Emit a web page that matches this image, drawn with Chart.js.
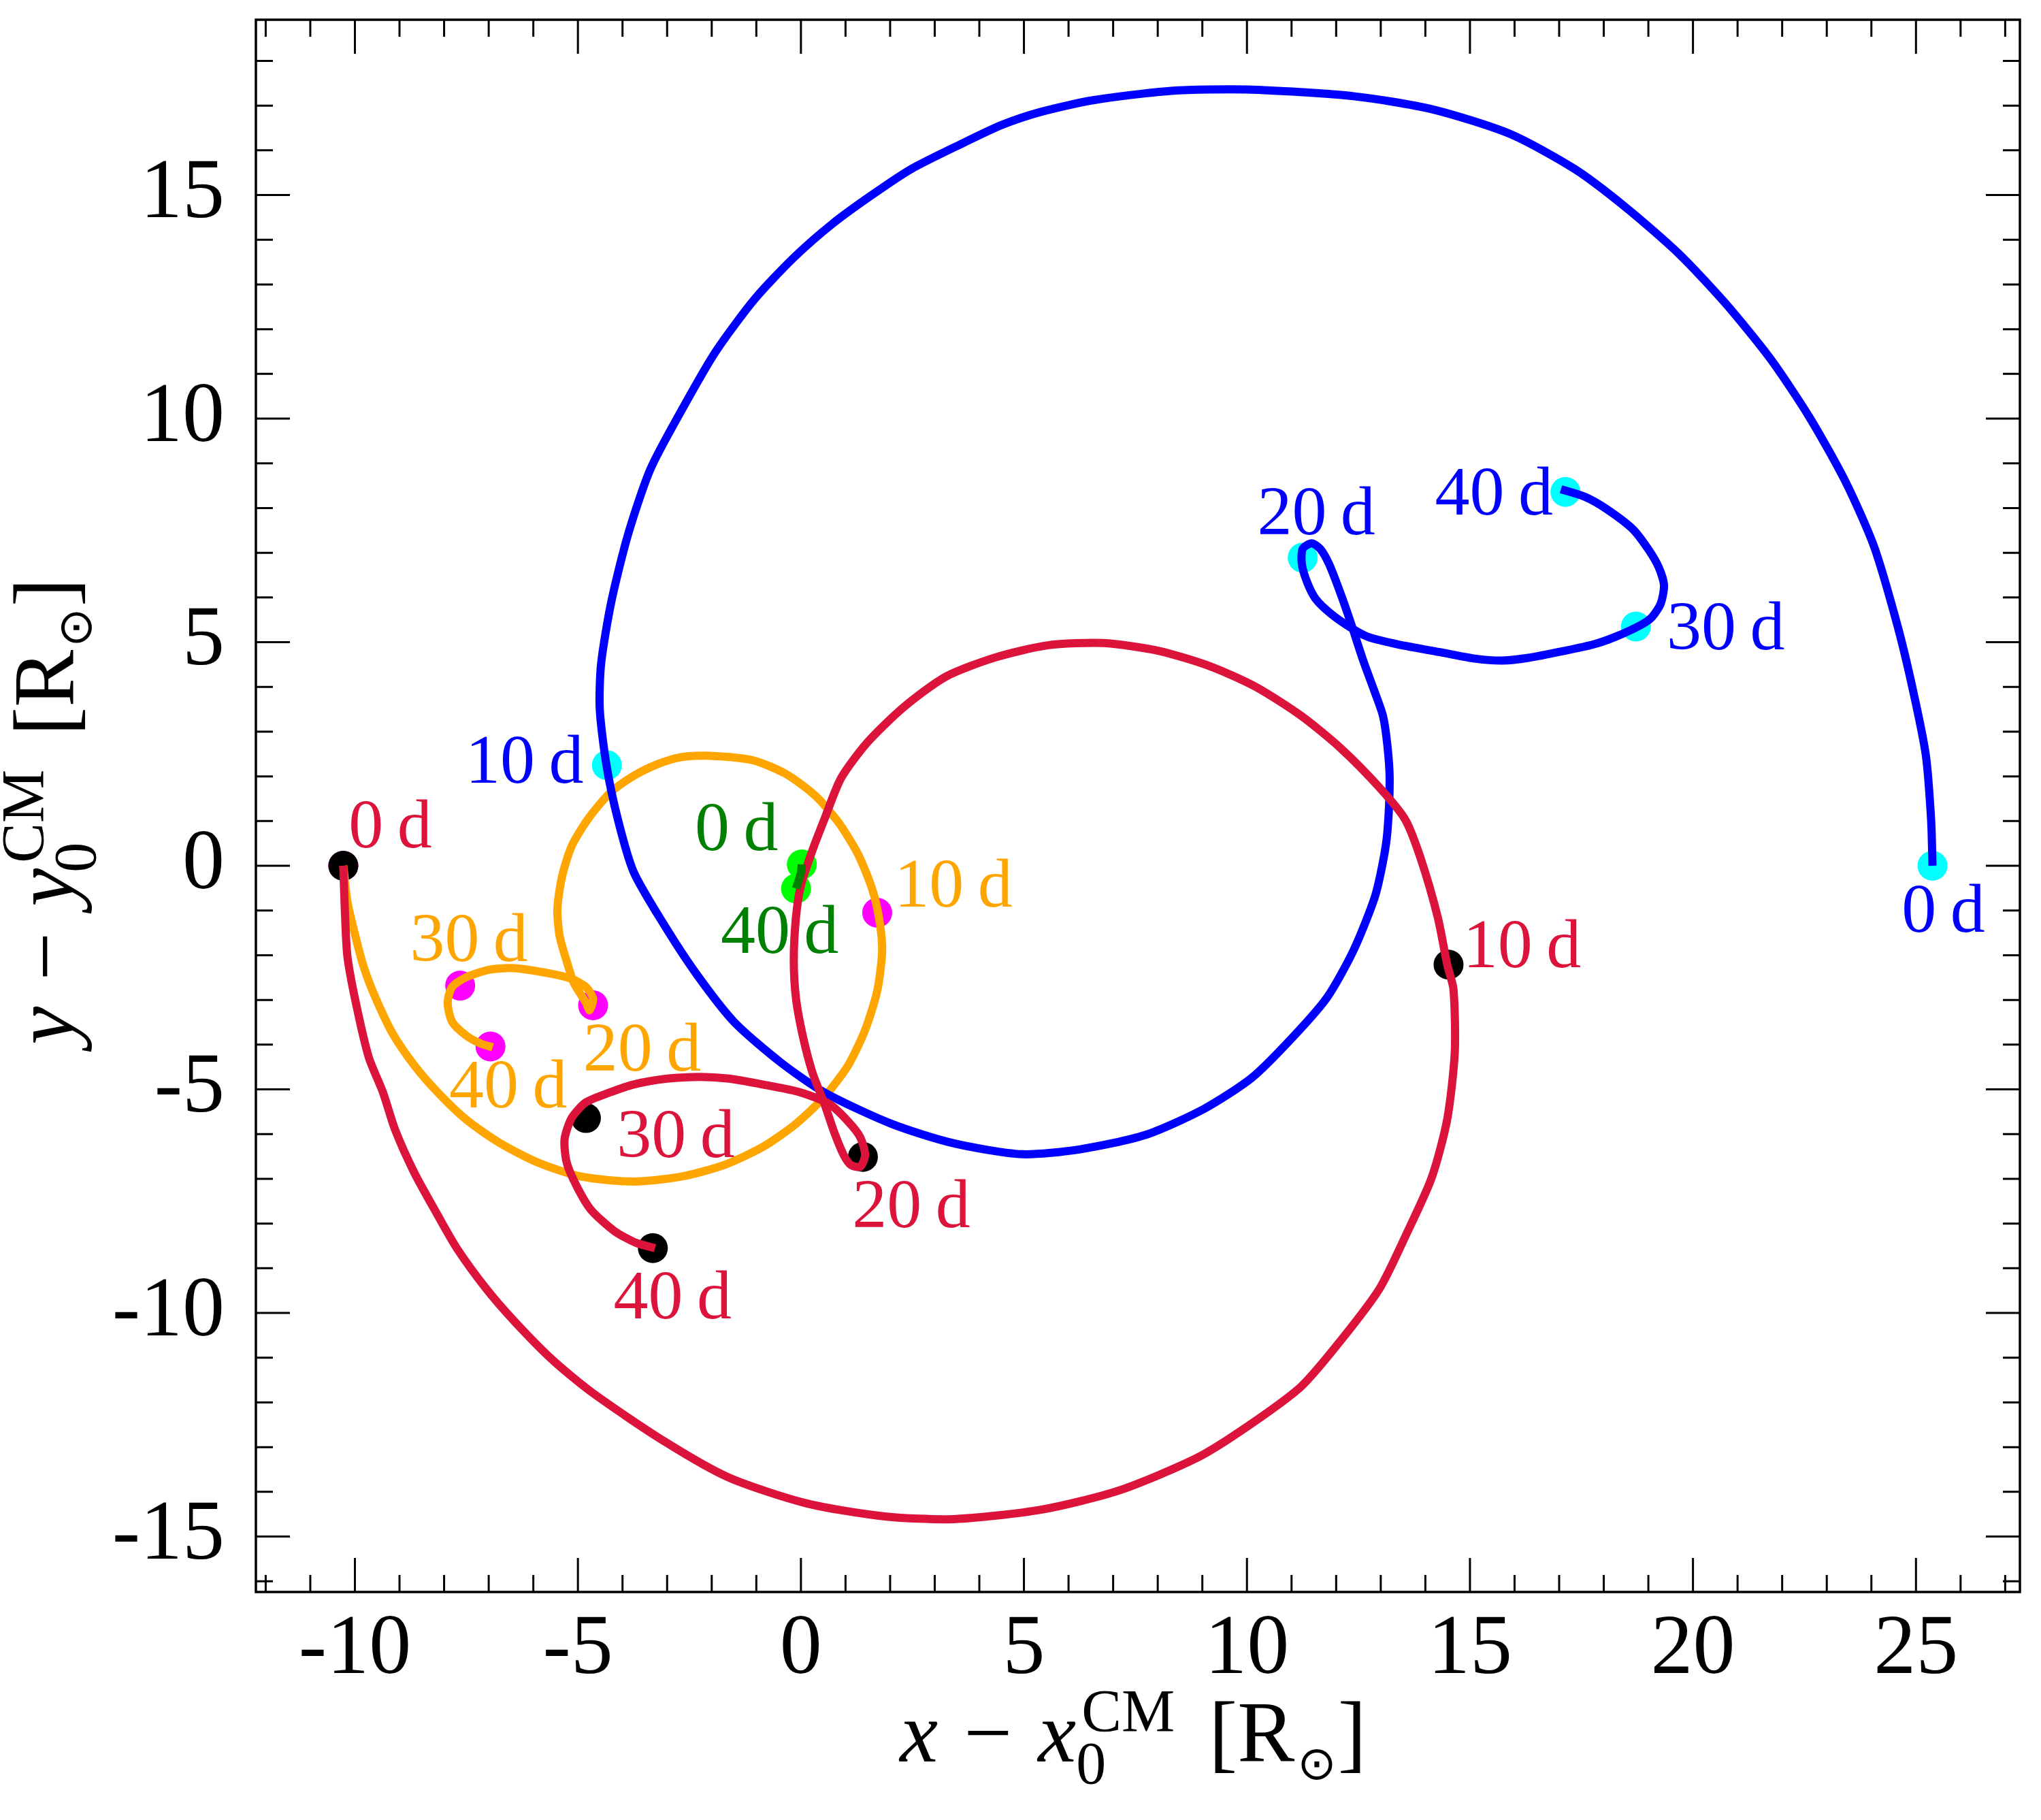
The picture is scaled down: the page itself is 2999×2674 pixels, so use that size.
<!DOCTYPE html>
<html>
<head>
<meta charset="utf-8">
<script src="https://cdn.jsdelivr.net/npm/chart.js@4.4.1/dist/chart.umd.min.js"></script>
<style>
  html, body { margin: 0; padding: 0; background: #fff; }
  canvas { display: block; }
</style>
</head>
<body>
<canvas id="orbitChart" width="2999" height="2674" style="width:2999px;height:2674px"></canvas>
<script>
// axis ranges and labelled ticks
const xRange = [-12.22, 27.33];
const yRange = [-16.24, 18.92];
const xTicks = [-10, -5, 0, 5, 10, 15, 20, 25];
const yTicks = [-15, -10, -5, 0, 5, 10, 15];

// trajectories, [x, y] in R_sun
const blueOrbit = [
  [25.37, 0.0], [25.34, 1.02], [25.22, 2.48], [24.93, 3.94], [24.58, 5.39], [24.06, 7.14],
  [23.42, 8.59], [22.60, 10.05], [21.72, 11.36], [20.70, 12.61], [19.68, 13.69], [18.51, 14.71],
  [17.35, 15.58], [15.89, 16.37], [14.14, 16.92], [12.39, 17.21], [9.99, 17.36], [8.30, 17.33],
  [6.55, 17.12], [5.38, 16.86], [4.51, 16.57], [3.63, 16.16], [2.47, 15.58], [1.59, 15.00],
  [0.71, 14.36], [-0.16, 13.60], [-1.04, 12.67], [-1.91, 11.50], [-2.64, 10.25], [-3.37, 8.88],
  [-3.87, 7.43], [-4.25, 5.91], [-4.48, 4.52], [-4.51, 3.50], [-4.36, 2.25], [-4.10, 1.02],
  [-3.75, -0.14], [-3.08, -1.30], [-2.35, -2.41], [-1.50, -3.49], [-0.45, -4.40], [0.53, -5.07],
  [2.03, -5.77], [3.40, -6.20], [4.95, -6.45], [6.26, -6.34], [7.72, -6.02], [9.03, -5.44],
  [10.11, -4.74], [11.02, -3.84], [11.80, -2.94], [12.39, -1.89], [12.86, -0.72], [13.05, 0.09],
  [13.15, 0.77], [13.20, 1.93], [13.15, 2.68], [13.05, 3.35], [12.86, 3.90], [12.61, 4.58],
  [12.32, 5.46], [12.08, 6.14], [11.84, 6.75], [11.64, 7.09], [11.45, 7.21], [11.25, 7.09],
  [11.23, 6.75], [11.35, 6.34], [11.54, 5.97], [11.89, 5.63], [12.32, 5.33], [12.71, 5.12],
  [13.39, 4.95], [14.37, 4.77], [15.14, 4.63], [15.73, 4.59], [16.31, 4.65], [17.09, 4.80],
  [17.77, 4.95], [18.26, 5.12], [18.84, 5.39], [19.08, 5.56], [19.28, 5.87], [19.35, 6.28],
  [19.23, 6.68], [18.99, 7.09], [18.65, 7.53], [18.06, 7.98], [17.58, 8.25], [17.04, 8.42]
];

const redOrbit = [
  [-10.26, 0.0], [-10.23, -0.87], [-10.17, -2.01], [-9.98, -3.06], [-9.69, -4.28], [-9.37, -5.07],
  [-9.10, -5.90], [-8.67, -6.86], [-8.14, -7.82], [-7.71, -8.56], [-7.07, -9.44], [-6.43, -10.18],
  [-5.57, -11.05], [-4.68, -11.78], [-3.08, -12.86], [-1.62, -13.68], [0.13, -14.26], [1.88, -14.55],
  [3.43, -14.61], [5.38, -14.40], [7.13, -13.97], [8.88, -13.24], [10.05, -12.51], [11.22, -11.64],
  [12.10, -10.62], [12.97, -9.46], [13.55, -8.29], [14.14, -6.98], [14.49, -5.67], [14.66, -4.16],
  [14.63, -2.76], [14.49, -2.21], [14.28, -1.16], [13.90, 0.15], [13.55, 1.03], [12.97, 1.75],
  [12.10, 2.63], [11.22, 3.35], [10.20, 4.00], [9.18, 4.46], [8.01, 4.81], [6.78, 4.98],
  [5.53, 4.93], [4.36, 4.66], [3.25, 4.23], [2.32, 3.56], [1.50, 2.77], [0.90, 1.96],
  [0.53, 1.05], [0.26, 0.35], [0.0, -0.44], [-0.11, -1.14], [-0.16, -2.10], [-0.11, -2.97],
  [0.05, -3.84], [0.26, -4.63], [0.53, -5.33], [0.74, -5.94], [0.96, -6.47], [1.12, -6.69],
  [1.33, -6.73], [1.44, -6.47], [1.33, -6.07], [1.06, -5.72], [0.64, -5.33], [0.0, -5.07],
  [-0.86, -4.89], [-1.61, -4.76], [-2.25, -4.72], [-3.00, -4.76], [-3.75, -4.89], [-4.29, -5.07],
  [-4.82, -5.29], [-5.14, -5.64], [-5.30, -6.12], [-5.25, -6.64], [-5.03, -7.16], [-4.71, -7.69],
  [-4.18, -8.17], [-3.70, -8.43], [-3.27, -8.55]
];

const orangeOrbit = [
  [-10.26, 0.0], [-10.17, -0.79], [-10.01, -1.49], [-9.80, -2.27], [-9.53, -2.97], [-9.15, -3.76],
  [-8.67, -4.46], [-8.14, -5.07], [-7.50, -5.68], [-6.75, -6.20], [-5.89, -6.64], [-4.93, -6.95],
  [-3.75, -7.06], [-2.68, -6.95], [-1.72, -6.69], [-0.86, -6.29], [-0.11, -5.77], [0.53, -5.16],
  [1.06, -4.46], [1.44, -3.67], [1.71, -2.80], [1.82, -1.92], [1.76, -1.22], [1.60, -0.53],
  [1.28, 0.26], [0.85, 0.96], [0.32, 1.57], [-0.33, 2.05], [-1.08, 2.36], [-2.04, 2.46],
  [-2.68, 2.43], [-3.22, 2.27], [-3.75, 2.01], [-4.29, 1.62], [-4.77, 1.05], [-5.14, 0.44],
  [-5.36, -0.26], [-5.46, -0.96], [-5.41, -1.57], [-5.25, -2.14], [-5.09, -2.62], [-4.82, -3.06],
  [-4.74, -3.23], [-4.66, -2.97], [-4.82, -2.71], [-5.14, -2.53], [-5.68, -2.40], [-6.43, -2.29],
  [-6.96, -2.32], [-7.50, -2.49], [-7.82, -2.71], [-7.92, -3.06], [-7.82, -3.49], [-7.50, -3.80],
  [-7.17, -3.98], [-6.91, -4.06]
];

const greenOrbit = [[0.02, 0.03], [0.0, -0.15], [-0.05, -0.32], [-0.11, -0.51]];

// positions every 10 days
const markDays = [0, 10, 20, 30, 40];
const blueMarks = [[25.37, 0.0], [-4.35, 2.25], [11.25, 6.89], [18.72, 5.35], [17.14, 8.36]];
const redMarks = [[-10.26, 0.0], [14.52, -2.21], [1.39, -6.51], [-4.82, -5.64], [-3.32, -8.55]];
const orangeMarks = [[-10.26, 0.0], [1.71, -1.05], [-4.66, -3.12], [-7.64, -2.68], [-6.96, -4.04]];
const greenDays = [0, 40];
const greenMarks = [[0.02, 0.03], [-0.11, -0.51]];

const toXY = pts => pts.map(p => ({ x: p[0], y: p[1] }));
const FONT = '"Liberation Serif", "Times New Roman", serif';

const lineSet = (data, color, order) => ({
    data: toXY(data),
    showLine: true,
    borderColor: color,
    borderWidth: 12,
    pointRadius: 0,
    tension: 0.25,
    order
});

const markSet = (data, color, tag, days) => ({
    data: toXY(data),
    showLine: false,
    backgroundColor: color,
    borderWidth: 0,
    pointRadius: 22,
    pointHoverRadius: 22,
    order: 10,
    tag,
    days
});

// label offsets in px from each dot (text centre x, baseline y)
const labelStyle = {
    blue:   { color: '#0000ff', off: [[16, 97], [-121, 26], [20, -34], [132, 33], [-105, 33]] },
    red:    { color: '#dc143c', off: [[69, -27], [108, 4], [71, 103], [132, 57], [29, 103]] },
    orange: { color: '#ffa500', off: [null, [112, -9], [72, 96], [13, -36], [26, 90]] },
    green:  { color: '#008000', off: [[-96, -21], [-24, 94]] }
};

const dayLabels = {
    id: 'dayLabels',
    afterDatasetsDraw(chart) {
        const ctx = chart.ctx;
        ctx.save();
        ctx.font = `102px ${FONT}`;
        ctx.textAlign = 'center';
        ctx.textBaseline = 'alphabetic';
        chart.data.datasets.forEach((ds, i) => {
            if (!ds.tag) return;
            const style = labelStyle[ds.tag];
            chart.getDatasetMeta(i).data.forEach((pt, j) => {
                const off = style.off[j];
                if (!off) return;
                ctx.fillStyle = style.color;
                ctx.fillText(`${ds.days[j]}\u2009d`, pt.x + off[0], pt.y + off[1]);
            });
        });
        ctx.restore();
    }
};

// x - x0^CM [R_sun] style title
const drawAxisTitle = (ctx, v, cx, cy, vertical) => {
    const big = `126px ${FONT}`;
    const bigIt = `italic 126px ${FONT}`;
    const small = `88px ${FONT}`;
    const sunFont = '100px "DejaVu Sans"';

    ctx.save();
    ctx.translate(cx, cy);
    if (vertical) ctx.rotate(-Math.PI / 2);
    ctx.fillStyle = '#000';
    ctx.textAlign = 'left';
    ctx.textBaseline = 'alphabetic';

    ctx.font = sunFont;
    const sm = ctx.measureText('\u2299');
    const sunScale = 46 / (sm.actualBoundingBoxAscent + sm.actualBoundingBoxDescent);
    const sunSize = 100 * sunScale;

    const w = (font, t) => { ctx.font = font; return ctx.measureText(t).width; };
    const parts = [
        { t: v, f: bigIt, dy: 0 },
        { gap: 38 },
        { t: '\u2212', f: big, dy: 0 },
        { gap: 38 },
        { t: v, f: bigIt, dy: 0 },
        { stack: true },
        { gap: 50 },
        { t: '[R', f: big, dy: 0 },
        { sun: true },
        { t: ']', f: big, dy: 0 }
    ];
    const widthOf = p => {
        if (p.gap) return p.gap;
        if (p.stack) return Math.max(w(small, 'CM') + 8, w(small, '0'));
        if (p.sun) return sm.width * sunScale + 6;
        return w(p.f, p.t);
    };
    const total = parts.reduce((s, p) => s + widthOf(p), 0);
    let x = -total / 2;
    parts.forEach(p => {
        if (p.stack) {
            ctx.font = small;
            ctx.fillText('CM', x + 8, -45);
            ctx.fillText('0', x - (v === 'y' ? 6 : 0), 32);
        } else if (p.sun) {
            ctx.font = `${sunSize}px "DejaVu Sans"`;
            const m = ctx.measureText('\u2299');
            const base = 4 + (m.actualBoundingBoxAscent - m.actualBoundingBoxDescent) / 2;
            ctx.fillText('\u2299', x + 4, base);
        } else if (p.t) {
            ctx.font = p.f;
            ctx.fillText(p.t, x, p.dy);
        }
        x += widthOf(p);
    });
    ctx.restore();
};

const frameAndTicks = {
    id: 'frameAndTicks',
    afterDraw(chart) {
        const { ctx, chartArea: a, scales: { x, y } } = chart;
        ctx.save();
        ctx.strokeStyle = '#000';
        ctx.lineWidth = 3;
        ctx.beginPath();
        for (let v = Math.ceil(x.min); v <= x.max; v++) {
            const p = x.getPixelForValue(v);
            const len = v % 5 === 0 ? 50 : 25;
            ctx.moveTo(p, a.bottom); ctx.lineTo(p, a.bottom - len);
            ctx.moveTo(p, a.top); ctx.lineTo(p, a.top + len);
        }
        for (let v = Math.ceil(y.min); v <= y.max; v++) {
            const p = y.getPixelForValue(v);
            const len = v % 5 === 0 ? 50 : 25;
            ctx.moveTo(a.left, p); ctx.lineTo(a.left + len, p);
            ctx.moveTo(a.right, p); ctx.lineTo(a.right - len, p);
        }
        ctx.stroke();
        ctx.lineWidth = 3.5;
        ctx.strokeRect(a.left, a.top, a.right - a.left, a.bottom - a.top);
        ctx.restore();

        drawAxisTitle(ctx, 'x', (a.left + a.right) / 2 - 7, 2588, false);
        drawAxisTitle(ctx, 'y', 108, (a.top + a.bottom) / 2 + 8, true);
    }
};

const tickFont = { family: FONT, size: 124 };
const noPad = s => { s.paddingTop = 0; s.paddingBottom = 0; s.paddingLeft = 0; s.paddingRight = 0; };

new Chart(document.getElementById('orbitChart'), {
    type: 'scatter',
    data: {
        datasets: [
            lineSet(greenOrbit, '#008000', 1),
            lineSet(redOrbit, '#dc143c', 2),
            lineSet(blueOrbit, '#0000ff', 3),
            lineSet(orangeOrbit, '#ffa500', 4),
            markSet(redMarks, '#000000', 'red', markDays),
            markSet(blueMarks, '#00ffff', 'blue', markDays),
            markSet(greenMarks, '#00ff00', 'green', greenDays),
            markSet(orangeMarks, '#ff00ff', 'orange', markDays)
        ]
    },
    options: {
        responsive: false,
        devicePixelRatio: 1,
        animation: false,
        events: [],
        layout: { padding: { left: 0, top: 29, right: 31, bottom: 0 } },
        plugins: {
            legend: { display: false },
            tooltip: { enabled: false }
        },
        scales: {
            x: {
                type: 'linear',
                min: xRange[0],
                max: xRange[1],
                grid: { display: false, drawTicks: false },
                border: { display: false },
                ticks: { font: tickFont, color: '#000', padding: 12, maxRotation: 0 },
                afterBuildTicks: s => { s.ticks = xTicks.map(v => ({ value: v })); },
                afterFit: s => { s.height = 335; noPad(s); }
            },
            y: {
                type: 'linear',
                min: yRange[0],
                max: yRange[1],
                grid: { display: false, drawTicks: false },
                border: { display: false },
                ticks: { font: tickFont, color: '#000', padding: 46 },
                afterBuildTicks: s => { s.ticks = yTicks.map(v => ({ value: v })); },
                afterFit: s => { s.width = 376; noPad(s); }
            }
        }
    },
    plugins: [frameAndTicks, dayLabels]
});
</script>
</body>
</html>
